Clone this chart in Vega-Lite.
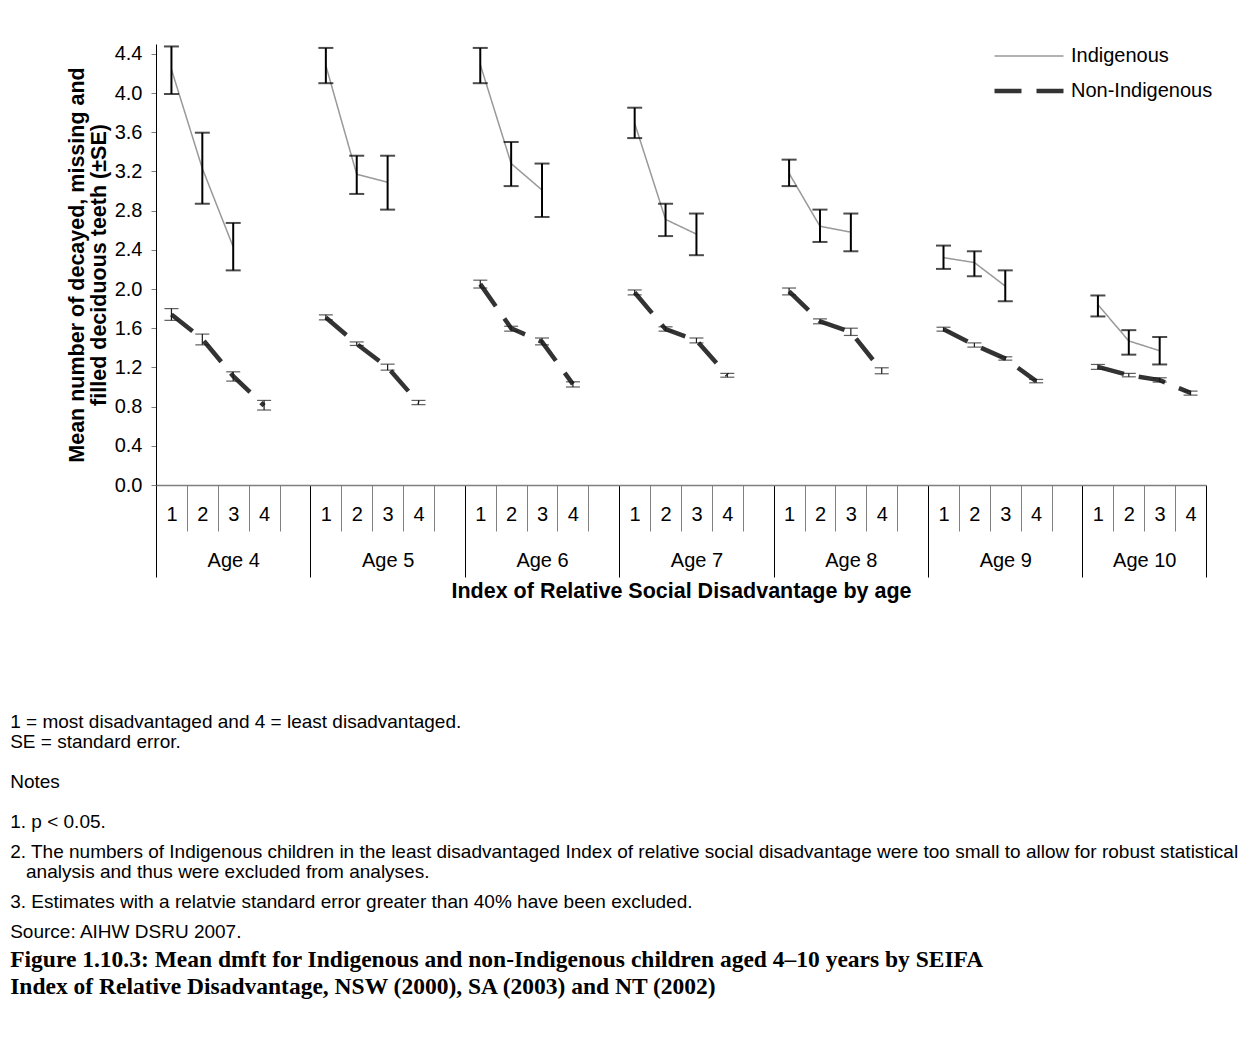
{
  "$schema": "https://vega.github.io/schema/vega-lite/v6.json",
  "width": 1050,
  "height": 441,
  "padding": {"left": 10, "top": 43, "right": 5, "bottom": 5},
  "background": "white",
  "config": {
    "font": "Liberation Sans",
    "view": {"stroke": null},
    "axis": {"grid": false, "labelColor": "#000", "titleColor": "#000", "labelFlush": false, "labelOverlap": false}
  },
  "title": {
    "text": [
      "1 = most disadvantaged and 4 = least disadvantaged.",
      "\u200b",
      "SE = standard error.",
      "\u200b",
      "\u200b",
      "\u200b",
      "Notes",
      "\u200b",
      "\u200b",
      "\u200b",
      "1. p < 0.05.",
      "\u200b",
      "\u200b",
      "2. The numbers of Indigenous children in the least disadvantaged Index of relative social disadvantage were too small to allow for robust statistical",
      "\u200b",
      "\u200b\u00a0\u00a0\u00a0analysis and thus were excluded from analyses.",
      "\u200b",
      "\u200b",
      "3. Estimates with a relatvie standard error greater than 40% have been excluded.",
      "\u200b",
      "\u200b",
      "Source: AIHW DSRU 2007."
    ],
    "subtitle": [
      "Figure 1.10.3: Mean dmft for Indigenous and non-Indigenous children aged 4–10 years by SEIFA",
      "Index of Relative Disadvantage, NSW (2000), SA (2003) and NT (2002)"
    ],
    "orient": "bottom",
    "anchor": "start",
    "frame": "bounds",
    "dx": -56,
    "offset": 111,
    "font": "Liberation Sans",
    "fontSize": 19,
    "fontWeight": "normal",
    "color": "#000",
    "lineHeight": 10,
    "subtitleFont": "Liberation Serif",
    "subtitleFontSize": 23.5,
    "subtitleFontWeight": "bold",
    "subtitleColor": "#000",
    "subtitleLineHeight": 27,
    "subtitlePadding": 6
  },
  "data": {
    "values": [
      {"age": 4, "idx": 1, "group": "Indigenous", "mean": 4.24, "lo": 3.99, "hi": 4.475},
      {"age": 4, "idx": 2, "group": "Indigenous", "mean": 3.23, "lo": 2.87, "hi": 3.595},
      {"age": 4, "idx": 3, "group": "Indigenous", "mean": 2.43, "lo": 2.19, "hi": 2.674},
      {"age": 4, "idx": 1, "group": "Non-Indigenous", "mean": 1.74, "lo": 1.68, "hi": 1.8},
      {"age": 4, "idx": 2, "group": "Non-Indigenous", "mean": 1.49, "lo": 1.43, "hi": 1.54},
      {"age": 4, "idx": 3, "group": "Non-Indigenous", "mean": 1.11, "lo": 1.06, "hi": 1.155},
      {"age": 4, "idx": 4, "group": "Non-Indigenous", "mean": 0.81, "lo": 0.765, "hi": 0.863},
      {"age": 5, "idx": 1, "group": "Indigenous", "mean": 4.28, "lo": 4.1, "hi": 4.46},
      {"age": 5, "idx": 2, "group": "Indigenous", "mean": 3.17, "lo": 2.97, "hi": 3.36},
      {"age": 5, "idx": 3, "group": "Indigenous", "mean": 3.09, "lo": 2.81, "hi": 3.36},
      {"age": 5, "idx": 1, "group": "Non-Indigenous", "mean": 1.71, "lo": 1.685, "hi": 1.736},
      {"age": 5, "idx": 2, "group": "Non-Indigenous", "mean": 1.44, "lo": 1.424, "hi": 1.46},
      {"age": 5, "idx": 3, "group": "Non-Indigenous", "mean": 1.2, "lo": 1.172, "hi": 1.233},
      {"age": 5, "idx": 4, "group": "Non-Indigenous", "mean": 0.84, "lo": 0.82, "hi": 0.863},
      {"age": 6, "idx": 1, "group": "Indigenous", "mean": 4.29, "lo": 4.1, "hi": 4.46},
      {"age": 6, "idx": 2, "group": "Indigenous", "mean": 3.28, "lo": 3.05, "hi": 3.5},
      {"age": 6, "idx": 3, "group": "Indigenous", "mean": 3.01, "lo": 2.735, "hi": 3.28},
      {"age": 6, "idx": 1, "group": "Non-Indigenous", "mean": 2.05, "lo": 2.01, "hi": 2.09},
      {"age": 6, "idx": 2, "group": "Non-Indigenous", "mean": 1.6, "lo": 1.57, "hi": 1.62},
      {"age": 6, "idx": 3, "group": "Non-Indigenous", "mean": 1.46, "lo": 1.43, "hi": 1.5},
      {"age": 6, "idx": 4, "group": "Non-Indigenous", "mean": 1.03, "lo": 1.0, "hi": 1.053},
      {"age": 7, "idx": 1, "group": "Indigenous", "mean": 3.69, "lo": 3.54, "hi": 3.85},
      {"age": 7, "idx": 2, "group": "Indigenous", "mean": 2.71, "lo": 2.54, "hi": 2.87},
      {"age": 7, "idx": 3, "group": "Indigenous", "mean": 2.56, "lo": 2.345, "hi": 2.77},
      {"age": 7, "idx": 1, "group": "Non-Indigenous", "mean": 1.965, "lo": 1.94, "hi": 1.99},
      {"age": 7, "idx": 2, "group": "Non-Indigenous", "mean": 1.59, "lo": 1.57, "hi": 1.614},
      {"age": 7, "idx": 3, "group": "Non-Indigenous", "mean": 1.475, "lo": 1.45, "hi": 1.5},
      {"age": 7, "idx": 4, "group": "Non-Indigenous", "mean": 1.12, "lo": 1.1, "hi": 1.139},
      {"age": 8, "idx": 1, "group": "Indigenous", "mean": 3.18, "lo": 3.05, "hi": 3.32},
      {"age": 8, "idx": 2, "group": "Indigenous", "mean": 2.64, "lo": 2.48, "hi": 2.81},
      {"age": 8, "idx": 3, "group": "Indigenous", "mean": 2.58, "lo": 2.385, "hi": 2.77},
      {"age": 8, "idx": 1, "group": "Non-Indigenous", "mean": 1.975, "lo": 1.94, "hi": 2.01},
      {"age": 8, "idx": 2, "group": "Non-Indigenous", "mean": 1.67, "lo": 1.645, "hi": 1.695},
      {"age": 8, "idx": 3, "group": "Non-Indigenous", "mean": 1.56, "lo": 1.526, "hi": 1.6},
      {"age": 8, "idx": 4, "group": "Non-Indigenous", "mean": 1.165, "lo": 1.135, "hi": 1.196},
      {"age": 9, "idx": 1, "group": "Indigenous", "mean": 2.32, "lo": 2.205, "hi": 2.443},
      {"age": 9, "idx": 2, "group": "Indigenous", "mean": 2.27, "lo": 2.13, "hi": 2.385},
      {"age": 9, "idx": 3, "group": "Indigenous", "mean": 2.03, "lo": 1.875, "hi": 2.19},
      {"age": 9, "idx": 1, "group": "Non-Indigenous", "mean": 1.59, "lo": 1.57, "hi": 1.61},
      {"age": 9, "idx": 2, "group": "Non-Indigenous", "mean": 1.43, "lo": 1.407, "hi": 1.45},
      {"age": 9, "idx": 3, "group": "Non-Indigenous", "mean": 1.29, "lo": 1.274, "hi": 1.308},
      {"age": 9, "idx": 4, "group": "Non-Indigenous", "mean": 1.06, "lo": 1.043, "hi": 1.077},
      {"age": 10, "idx": 1, "group": "Indigenous", "mean": 1.84, "lo": 1.72, "hi": 1.934},
      {"age": 10, "idx": 2, "group": "Indigenous", "mean": 1.47, "lo": 1.33, "hi": 1.58},
      {"age": 10, "idx": 3, "group": "Indigenous", "mean": 1.37, "lo": 1.23, "hi": 1.51},
      {"age": 10, "idx": 1, "group": "Non-Indigenous", "mean": 1.205, "lo": 1.18, "hi": 1.23},
      {"age": 10, "idx": 2, "group": "Non-Indigenous", "mean": 1.12, "lo": 1.104, "hi": 1.139},
      {"age": 10, "idx": 3, "group": "Non-Indigenous", "mean": 1.07, "lo": 1.05, "hi": 1.094},
      {"age": 10, "idx": 4, "group": "Non-Indigenous", "mean": 0.94, "lo": 0.917, "hi": 0.958}
    ]
  },
  "transform": [
    {"calculate": "(datum.age - 4) * 5 + datum.idx - 0.5", "as": "slot"}
  ],
  "resolve": {"axis": {"x": "independent"}},
  "layer": [
    {
      "mark": {"type": "line", "strokeCap": "butt"},
      "encoding": {
        "x": {
          "field": "slot", "type": "quantitative",
          "scale": {"domain": [0, 34], "nice": false, "zero": false},
          "axis": {
            "orient": "bottom",
            "values": [0,1,2,3,4,5,6,7,8,9,10,11,12,13,14,15,16,17,18,19,20,21,22,23,24,25,26,27,28,29,30,31,32,33,34],
            "labels": false, "title": null,
            "domain": true, "domainColor": "#808080", "domainWidth": 1.5,
            "ticks": true,
            "tickSize": {"condition": {"test": "datum.value % 5 === 0 || datum.value === 34", "value": 92}, "value": 46},
            "tickColor": {"condition": {"test": "datum.value % 5 === 0 || datum.value === 34", "value": "#000000"}, "value": "#808080"},
            "tickWidth": 1
          }
        },
        "y": {
          "field": "mean", "type": "quantitative",
          "scale": {"domain": [0, 4.5], "nice": false, "zero": true},
          "axis": {
            "values": [0, 0.4, 0.8, 1.2, 1.6, 2.0, 2.4, 2.8, 3.2, 3.6, 4.0, 4.4],
            "format": ".1f",
            "labelFontSize": 20,
            "labelPadding": 9,
            "tickSize": 5,
            "tickColor": "#808080",
            "domainColor": "#000000",
            "domainWidth": 1,
            "title": ["Mean number of decayed, missing and", "filled deciduous teeth (±SE)"],
            "titleFontSize": 21.5,
            "titleFontWeight": "bold",
            "titleLineHeight": 22,
            "titlePadding": 4
          }
        },
        "detail": {"field": "age", "type": "nominal"},
        "color": {
          "field": "group", "type": "nominal",
          "scale": {"domain": ["Indigenous", "Non-Indigenous"], "range": ["#999999", "#333333"]},
          "legend": {"orient": "none", "legendX": 836, "legendY": 2, "title": null, "symbolType": "stroke", "symbolSize": 4761, "labelFontSize": 20, "labelColor": "#000", "clipHeight": 20, "rowPadding": 15, "labelOffset": 5}
        },
        "strokeDash": {
          "field": "group", "type": "nominal",
          "scale": {"domain": ["Indigenous", "Non-Indigenous"], "range": [[1, 0], [27, 15]]},
          "legend": {"orient": "none", "legendX": 836, "legendY": 2, "title": null, "symbolType": "stroke", "symbolSize": 4761, "labelFontSize": 20, "labelColor": "#000", "clipHeight": 20, "rowPadding": 15, "labelOffset": 5}
        },
        "strokeWidth": {
          "field": "group", "type": "nominal",
          "scale": {"domain": ["Indigenous", "Non-Indigenous"], "range": [1.5, 4.5]},
          "legend": {"orient": "none", "legendX": 836, "legendY": 2, "title": null, "symbolType": "stroke", "symbolSize": 4761, "labelFontSize": 20, "labelColor": "#000", "clipHeight": 20, "rowPadding": 15, "labelOffset": 5}
        }
      }
    },
    {
      "transform": [{"filter": "datum.group === 'Indigenous'"}],
      "mark": {"type": "rule", "color": "#000000", "strokeWidth": 2},
      "encoding": {
        "x": {
          "field": "slot", "type": "quantitative",
          "axis": {
            "orient": "bottom",
            "values": [0.5,1.5,2.5,3.5,5.5,6.5,7.5,8.5,10.5,11.5,12.5,13.5,15.5,16.5,17.5,18.5,20.5,21.5,22.5,23.5,25.5,26.5,27.5,28.5,30.5,31.5,32.5,33.5],
            "labelExpr": "floor(datum.value) % 5 + 1",
            "labelFontSize": 20,
            "labelPadding": 19,
            "ticks": false, "tickSize": 0, "domain": false, "title": null
          }
        },
        "y": {"field": "lo", "type": "quantitative"},
        "y2": {"field": "hi"}
      }
    },
    {
      "transform": [{"filter": "datum.group === 'Non-Indigenous'"}],
      "mark": {"type": "rule", "color": "#1a1a1a", "strokeWidth": 1.2},
      "encoding": {
        "x": {
          "field": "slot", "type": "quantitative",
          "axis": {
            "orient": "bottom",
            "values": [2.5, 7.5, 12.5, 17.5, 22.5, 27.5, 32],
            "labelExpr": "'Age ' + (floor(datum.value / 5) + 4)",
            "labelFontSize": 20,
            "labelPadding": 65,
            "ticks": false, "tickSize": 0, "domain": false,
            "title": "Index of Relative Social Disadvantage by age",
            "titleFontSize": 21.5,
            "titleFontWeight": "bold",
            "titlePadding": 10
          }
        },
        "y": {"field": "lo", "type": "quantitative"},
        "y2": {"field": "hi"}
      }
    },
    {
      "transform": [
        {"filter": "datum.group === 'Indigenous'"},
        {"fold": ["lo", "hi"], "as": ["end", "value"]}
      ],
      "mark": {"type": "tick", "orient": "horizontal", "color": "#000000", "size": 15, "thickness": 2},
      "encoding": {
        "x": {"field": "slot", "type": "quantitative", "axis": null},
        "y": {"field": "value", "type": "quantitative"}
      }
    },
    {
      "transform": [
        {"filter": "datum.group === 'Non-Indigenous'"},
        {"fold": ["lo", "hi"], "as": ["end", "value"]}
      ],
      "mark": {"type": "tick", "orient": "horizontal", "color": "#1a1a1a", "size": 14, "thickness": 1.2},
      "encoding": {
        "x": {"field": "slot", "type": "quantitative", "axis": null},
        "y": {"field": "value", "type": "quantitative"}
      }
    }
  ]
}
